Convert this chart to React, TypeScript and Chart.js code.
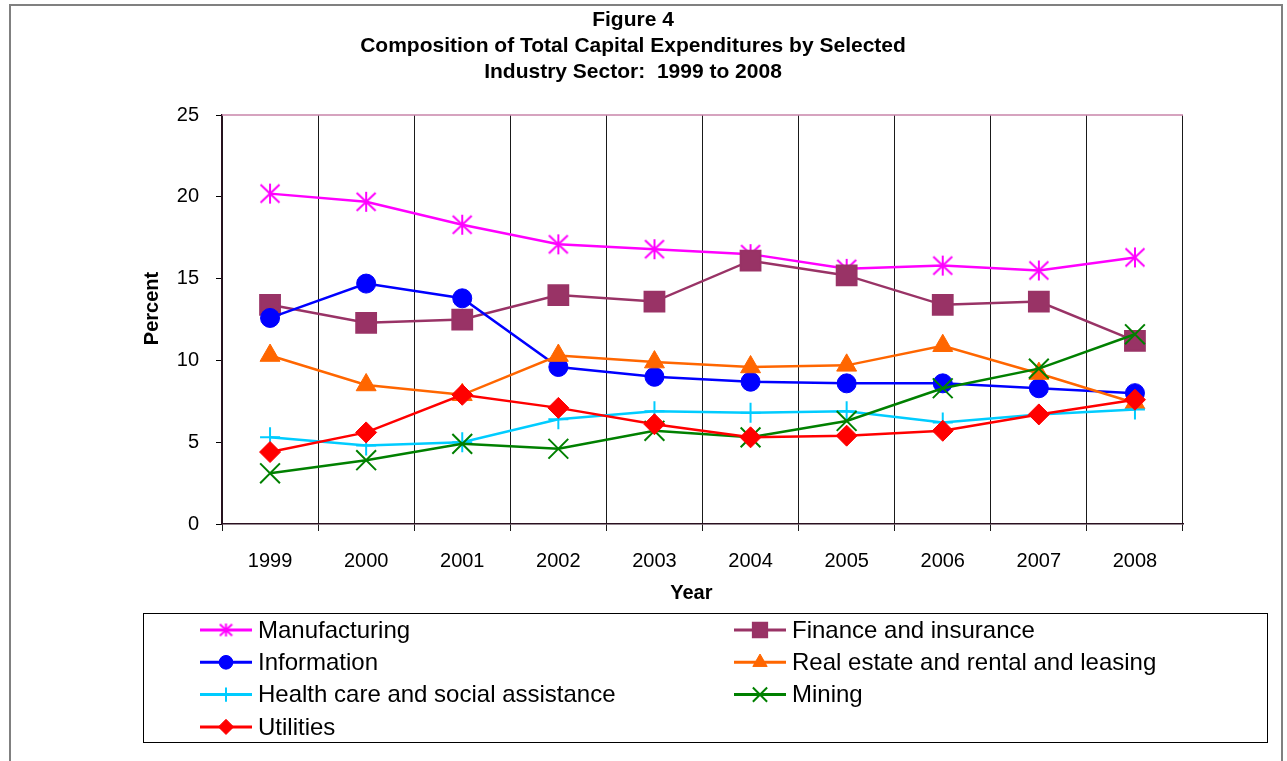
import React, { useEffect, useRef } from 'react';
import { Chart, registerables } from 'chart.js';
import { drawPoint } from 'chart.js/helpers';

Chart.register(...registerables);

const FONT = "'Liberation Sans', Arial, sans-serif";

const years = ['1999', '2000', '2001', '2002', '2003', '2004', '2005', '2006', '2007', '2008'];
const titleLines = [
  'Figure 4',
  'Composition of Total Capital Expenditures by Selected',
  'Industry Sector:  1999 to 2008',
];
const yTicks = [0, 5, 10, 15, 20, 25];

const manufacturing = [20.2, 19.7, 18.3, 17.1, 16.8, 16.5, 15.6, 15.8, 15.5, 16.3];
const finance = [13.4, 12.3, 12.5, 14.0, 13.6, 16.1, 15.2, 13.4, 13.6, 11.2];
const information = [12.6, 14.7, 13.8, 9.6, 9.0, 8.7, 8.6, 8.6, 8.3, 8.0];
const realEstate = [10.3, 8.5, 7.9, 10.3, 9.9, 9.6, 9.7, 10.9, 9.2, 7.4];
const health = [5.3, 4.8, 5.0, 6.4, 6.9, 6.8, 6.9, 6.2, 6.7, 7.0];
const mining = [3.1, 3.9, 4.9, 4.6, 5.7, 5.3, 6.3, 8.3, 9.5, 11.6];
const utilities = [4.4, 5.6, 7.9, 7.1, 6.1, 5.3, 5.4, 5.7, 6.7, 7.6];

function makeAsterisk(size: number, color: string, lw: number): HTMLCanvasElement {
  const c = document.createElement('canvas');
  c.width = size;
  c.height = size;
  const ctx = c.getContext('2d')!;
  ctx.strokeStyle = color;
  ctx.lineWidth = lw;
  const m = size / 2;
  const r = size / 2 - 1;
  ctx.beginPath();
  ctx.moveTo(m, m - r);
  ctx.lineTo(m, m + r);
  ctx.moveTo(m - r * 0.95, m - r * 0.9);
  ctx.lineTo(m + r * 0.95, m + r * 0.9);
  ctx.moveTo(m - r * 0.95, m + r * 0.9);
  ctx.lineTo(m + r * 0.95, m - r * 0.9);
  ctx.stroke();
  return c;
}

const framePlugin = {
  id: 'frame',
  beforeDraw(chart: any) {
    const { ctx, width, height } = chart;
    ctx.save();
    ctx.fillStyle = '#ffffff';
    ctx.fillRect(0, 0, width, height);
    ctx.strokeStyle = '#808080';
    ctx.lineWidth = 2;
    ctx.beginPath();
    ctx.moveTo(10, height + 2);
    ctx.lineTo(10, 5);
    ctx.lineTo(1282, 5);
    ctx.lineTo(1282, height + 2);
    ctx.stroke();
    ctx.restore();
  },
  beforeDatasetsDraw(chart: any) {
    const { ctx, chartArea } = chart;
    ctx.save();
    ctx.strokeStyle = '#c884aa';
    ctx.lineWidth = 1.5;
    ctx.beginPath();
    ctx.moveTo(chartArea.left, chartArea.top);
    ctx.lineTo(chartArea.right, chartArea.top);
    ctx.stroke();
    ctx.restore();
  },
};

const boxLegendPlugin = {
  id: 'boxLegend',
  afterDraw(chart: any) {
    const { ctx } = chart;
    const box = { left: 143, top: 613, right: 1267, bottom: 742 };
    ctx.save();
    ctx.strokeStyle = '#000000';
    ctx.lineWidth = 1;
    ctx.strokeRect(box.left + 0.5, box.top + 0.5, box.right - box.left, box.bottom - box.top);
    const colX = [200, 734];
    const rowY0 = 630;
    const rowH = 32.3;
    chart.data.datasets.forEach((ds: any, i: number) => {
      const col = i % 2;
      const row = Math.floor(i / 2);
      const x0 = colX[col];
      const y = rowY0 + row * rowH;
      ctx.strokeStyle = ds.borderColor;
      ctx.lineWidth = 3;
      ctx.beginPath();
      ctx.moveTo(x0, y);
      ctx.lineTo(x0 + 52, y);
      ctx.stroke();
      const cx = x0 + 26;
      if (ds.legendImage) {
        const img = ds.legendImage as HTMLCanvasElement;
        ctx.drawImage(img, cx - img.width / 2, y - img.height / 2);
      } else {
        ctx.fillStyle = ds.pointBackgroundColor;
        ctx.strokeStyle = ds.pointBorderColor;
        ctx.lineWidth = ds.pointBorderWidth;
        drawPoint(ctx, {
          pointStyle: ds.pointStyle,
          rotation: 0,
          radius: ds.pointRadius * 0.72,
          borderWidth: ds.pointBorderWidth,
        } as any, cx, y);
      }
      ctx.fillStyle = '#000000';
      ctx.font = `24px ${FONT}`;
      ctx.textAlign = 'left';
      ctx.textBaseline = 'middle';
      ctx.fillText(ds.label, x0 + 58, y + 1);
    });
    ctx.restore();
  },
};

function series(label: string, data: number[], color: string, pointStyle: any, radius: number, idx: number, extra: any = {}) {
  return {
    label,
    data,
    borderColor: color,
    backgroundColor: color,
    pointBackgroundColor: color,
    pointBorderColor: color,
    pointBorderWidth: 2,
    pointStyle,
    pointRadius: radius,
    pointHoverRadius: radius,
    borderWidth: 2.5,
    tension: 0,
    fill: false,
    order: 10 - idx,
    ...extra,
  };
}

export default function App() {
  const ref = useRef<HTMLCanvasElement | null>(null);

  useEffect(() => {
    if (!ref.current) return;
    const star = makeAsterisk(22, '#ff00ff', 2);
    const starSmall = makeAsterisk(15, '#ff00ff', 2);

    const datasets = [
      series('Manufacturing', manufacturing, '#ff00ff', star, 10, 0, { legendImage: starSmall }),
      series('Finance and insurance', finance, '#993366', 'rect', 14, 1),
      series('Information', information, '#0000ff', 'circle', 9.5, 2, { pointBorderWidth: 1 }),
      series('Real estate and rental and leasing', realEstate, '#ff6600', 'triangle', 11.5, 3, { pointBorderWidth: 1 }),
      series('Health care and social assistance', health, '#00ccff', 'cross', 10, 4),
      series('Mining', mining, '#008000', 'crossRot', 14, 5),
      series('Utilities', utilities, '#ff0000', 'rectRot', 10.5, 6, { pointBorderWidth: 1 }),
    ];

    const chart = new Chart(ref.current, {
      type: 'line',
      data: { labels: years, datasets: datasets as any },
      options: {
        animation: false,
        responsive: true,
        maintainAspectRatio: false,
        devicePixelRatio: 1,
        layout: { padding: { left: 83, right: 104, top: 0, bottom: 147 } },
        plugins: {
          legend: { display: false },
          tooltip: { enabled: false },
          title: {
            display: true,
            text: titleLines,
            color: '#000000',
            font: { family: FONT, size: 21, weight: 'bold', lineHeight: 1.24 },
            padding: { top: 7, bottom: 30 },
          },
        },
        scales: {
          x: {
            type: 'category',
            offset: true,
            grid: {
              offset: true,
              display: true,
              drawOnChartArea: true,
              drawTicks: true,
              tickLength: 7,
              lineWidth: 1,
              color: (c: any) => (c.index === years.length ? '#7a3a62' : '#1a1a1a'),
            },
            border: { display: true, color: '#2a1020', width: 1.5 },
            ticks: {
              color: '#000000',
              font: { family: FONT, size: 20 },
              padding: 18,
              maxRotation: 0,
              autoSkip: false,
            },
            title: {
              display: true,
              text: 'Year    ',
              color: '#000000',
              font: { family: FONT, size: 20, weight: 'bold' },
              padding: { top: 8, bottom: 9 },
            },
            afterFit: (scale: any) => {
              scale.height = 90;
            },
          },
          y: {
            min: 0,
            max: 25,
            afterBuildTicks: (scale: any) => {
              scale.ticks = yTicks.map((v) => ({ value: v }));
            },
            grid: {
              display: true,
              drawOnChartArea: false,
              drawTicks: true,
              tickLength: 6,
              color: '#000000',
            },
            border: { display: true, color: '#2a1020', width: 1.5 },
            ticks: {
              color: '#000000',
              font: { family: FONT, size: 20 },
              padding: 17,
            },
            title: {
              display: true,
              text: '    Percent',
              color: '#000000',
              font: { family: FONT, size: 20, weight: 'bold' },
              padding: { top: 57, bottom: 4 },
            },
            afterFit: (scale: any) => {
              scale.width = 139;
            },
          },
        },
      },
      plugins: [framePlugin, boxLegendPlugin],
    });

    return () => {
      chart.destroy();
    };
  }, []);

  return (
    <div style={{ position: 'absolute', left: 0, top: 0, width: 1287, height: 761 }}>
      <canvas ref={ref} />
    </div>
  );
}
